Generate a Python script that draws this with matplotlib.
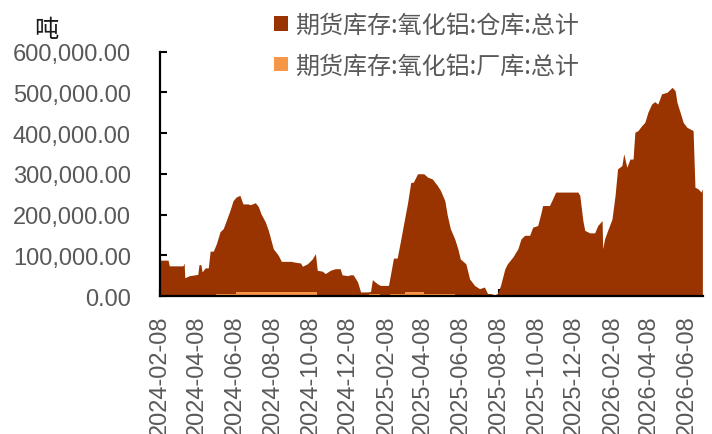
import matplotlib
matplotlib.use("Agg")
import matplotlib.pyplot as plt
import matplotlib.dates as mdates
from matplotlib.patches import Patch
from matplotlib.ticker import FuncFormatter, MultipleLocator
import pandas as pd

plt.rcParams['font.family'] = ['Liberation Sans', 'Noto Sans CJK SC', 'DejaVu Sans']

# 期货库存:氧化铝:仓库:总计 (thousand tons)
warehouse_dates = [
    "2024-02-08", "2024-02-21", "2024-02-23", "2024-03-16", "2024-03-18", "2024-03-19",
    "2024-03-27", "2024-04-09", "2024-04-11", "2024-04-14", "2024-04-16", "2024-04-21",
    "2024-04-26", "2024-04-29", "2024-05-04", "2024-05-09", "2024-05-15", "2024-05-20",
    "2024-05-25", "2024-05-31", "2024-06-05", "2024-06-10", "2024-06-16", "2024-06-21",
    "2024-06-29", "2024-07-03", "2024-07-11", "2024-07-16", "2024-07-20", "2024-07-27",
    "2024-08-01", "2024-08-09", "2024-08-17", "2024-08-22", "2024-09-07", "2024-09-13",
    "2024-09-22", "2024-09-25", "2024-10-03", "2024-10-11", "2024-10-16", "2024-10-19",
    "2024-10-27", "2024-11-01", "2024-11-09", "2024-11-17", "2024-11-25", "2024-11-28",
    "2024-12-07", "2024-12-11", "2024-12-16", "2024-12-23", "2024-12-28", "2025-01-08",
    "2025-01-13", "2025-01-16", "2025-01-24", "2025-01-29", "2025-02-11", "2025-02-16",
    "2025-02-19", "2025-02-25", "2025-03-02", "2025-03-07", "2025-03-14", "2025-03-19",
    "2025-03-23", "2025-03-30", "2025-04-09", "2025-04-15", "2025-04-23", "2025-05-01",
    "2025-05-06", "2025-05-13", "2025-05-17", "2025-05-22", "2025-05-29", "2025-06-03",
    "2025-06-07", "2025-06-16", "2025-06-22", "2025-06-30", "2025-07-08", "2025-07-16",
    "2025-07-21", "2025-07-26", "2025-08-01", "2025-08-06", "2025-08-11", "2025-08-18",
    "2025-08-22", "2025-08-31", "2025-09-08", "2025-09-13", "2025-09-19", "2025-09-27",
    "2025-10-02", "2025-10-10", "2025-10-15", "2025-10-18", "2025-10-29", "2025-11-03",
    "2025-11-08", "2025-12-14", "2025-12-17", "2025-12-22", "2025-12-25", "2026-01-02",
    "2026-01-10", "2026-01-15", "2026-01-22", "2026-01-23", "2026-01-26", "2026-01-31",
    "2026-02-07", "2026-02-12", "2026-02-16", "2026-02-23", "2026-02-26", "2026-03-03",
    "2026-03-08", "2026-03-13", "2026-03-16", "2026-03-21", "2026-03-27", "2026-04-01",
    "2026-04-06", "2026-04-12", "2026-04-17", "2026-04-22", "2026-04-28", "2026-05-07",
    "2026-05-15", "2026-05-20", "2026-05-23", "2026-05-28", "2026-06-02", "2026-06-08",
    "2026-06-13", "2026-06-18", "2026-06-21", "2026-06-26", "2026-07-01", "2026-07-03",
]
warehouse_k = [
    88, 88, 74, 74, 81, 45,
    50, 53, 77, 77, 59, 69,
    69, 110, 110, 128, 158, 165,
    185, 210, 234, 243, 247, 226,
    226, 224, 229, 219, 202, 182,
    161, 116, 100, 85, 85, 83,
    81, 73, 79, 91, 104, 63,
    61, 55, 63, 67, 67, 52,
    50, 52, 52, 35, 10, 10,
    11, 40, 30, 26, 26, 67,
    93, 93, 132, 173, 230, 279,
    279, 300, 300, 292, 287, 271,
    259, 234, 198, 165, 140, 116,
    91, 79, 42, 26, 18, 22,
    6, 6, 3, 6, 26, 67,
    79, 96, 116, 140, 149, 149,
    169, 173, 202, 222, 222, 238,
    255, 255, 247, 185, 161, 155,
    155, 173, 185, 116, 140, 161,
    189, 247, 312, 320, 349, 316,
    336, 336, 402, 406, 418, 426,
    451, 471, 477, 471, 496, 500,
    512, 504, 475, 451, 426, 414,
    410, 406, 267, 263, 255, 263,
]

# 期货库存:氧化铝:厂库:总计 (thousand tons, step changes)
factory_dates = [
    "2024-02-08", "2024-05-09", "2024-06-10", "2024-10-19", "2024-10-25",
    "2025-01-10", "2025-01-29", "2025-02-14", "2025-03-10", "2025-04-09",
    "2025-05-30", "2026-05-21", "2026-07-03",
]
factory_k = [0, 6, 11, 3, 0, 4, 0, 4, 9, 4, 0, 3, 3]

series_names = ["期货库存:氧化铝:仓库:总计", "期货库存:氧化铝:厂库:总计"]
series_colors = ["#993300", "#F79646"]
unit_label = "吨"

wd = pd.to_datetime(warehouse_dates)
wv = [v * 1000 for v in warehouse_k]
fd = pd.to_datetime(factory_dates)
fv = [v * 1000 for v in factory_k]

fig = plt.figure(figsize=(7.12, 4.35), dpi=100)
ax = fig.add_axes([160 / 712, 1 - 297 / 435, 543 / 712, (297 - 52.5) / 435])

ax.fill_between(wd, 0, wv, color=series_colors[0], linewidth=0, zorder=2)
ax.fill_between(fd, 0, fv, step='post', color=series_colors[1], linewidth=0, zorder=3)

ax.set_xlim(pd.Timestamp("2024-02-08"), pd.Timestamp("2026-07-04"))
ax.set_ylim(0, 600000)
ax.yaxis.set_major_locator(MultipleLocator(100000))
ax.yaxis.set_major_formatter(FuncFormatter(lambda v, p: f"{v:,.2f}"))
ax.xaxis.set_major_locator(mdates.MonthLocator(bymonth=(2, 4, 6, 8, 10, 12), bymonthday=8))
ax.xaxis.set_major_formatter(mdates.DateFormatter("%Y-%m-%d"))

for s in ("top", "right"):
    ax.spines[s].set_visible(False)
for s in ("left", "bottom"):
    ax.spines[s].set_linewidth(1.6)
    ax.spines[s].set_color("black")
    ax.spines[s].set_zorder(5)

ax.tick_params(axis="y", direction="in", length=5, width=1.5, pad=21,
               labelsize=17, labelcolor="#595959")
ax.tick_params(axis="x", direction="in", length=5, width=1.5, pad=13,
               labelsize=17, labelcolor="#595959", labelrotation=90)

fig.text(46 / 712, 1 - 30 / 435, unit_label, ha="center", va="center",
         fontsize=17.5, color="#1a1a1a", family=["Noto Sans CJK SC"])

handles = [Patch(facecolor=c, edgecolor="none") for c in series_colors]
leg = fig.legend(handles, series_names, loc="upper left",
                 bbox_to_anchor=(274 / 712, 1 - 13 / 435), frameon=False,
                 prop={"family": ["Noto Sans CJK SC"], "size": 17.3},
                 labelcolor="#595959", handlelength=0.57, handleheight=0.57,
                 handletextpad=0.3, labelspacing=0.6, borderpad=0, borderaxespad=0)

fig.savefig("out.png", dpi=100)
